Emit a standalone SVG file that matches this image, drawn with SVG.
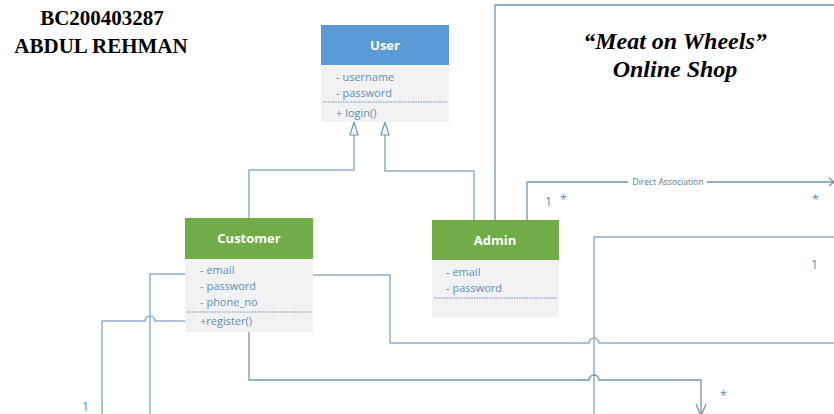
<svg xmlns="http://www.w3.org/2000/svg" width="834" height="414" viewBox="0 0 834 414">
<style>
.title{font-family:"Liberation Serif","Times New Roman",serif;font-weight:bold;font-size:21px;fill:#000}
.shop{font-family:"Liberation Serif","Times New Roman",serif;font-weight:bold;font-style:italic;font-size:24px;fill:#000}
.hdr{font-family:"Open Sans","DejaVu Sans",sans-serif;font-weight:bold;font-size:13px;fill:#fff}
.attr{font-family:"Open Sans","DejaVu Sans",sans-serif;font-size:11px;fill:#5F8DBA}
.mult{font-family:"Open Sans","DejaVu Sans",sans-serif;font-size:12.5px;fill:#5F8DBA}
.lbl{font-family:"Open Sans","DejaVu Sans",sans-serif;font-size:8.5px;fill:#5E7A92}
.body{fill:#F2F2F2}
.sep{stroke:#6F93BD;stroke-width:1;stroke-dasharray:1.5 1}
.c1{fill:none;stroke:#8FB0CB;stroke-width:1.5}
.c2{fill:none;stroke:#7294AE;stroke-width:1.3}
</style>
<rect width="834" height="414" fill="#fff"/>
<text class="title" x="102" y="25" text-anchor="middle">BC200403287</text>
<text class="title" x="101" y="53" text-anchor="middle">ABDUL REHMAN</text>
<text class="shop" x="675" y="49" text-anchor="middle">“Meat on Wheels”</text>
<text class="shop" x="675" y="77" text-anchor="middle">Online Shop</text>

<g id="connectors">
  <!-- generalization Customer -> User -->
  <path class="c1" d="M249,218 V170 H354 V135"/>
  <path d="M354,122 L350,135 H358 Z" fill="#fff" stroke="#7294AE" stroke-width="1.2"/>
  <!-- generalization Admin -> User -->
  <path class="c1" d="M474,220 V171 H385 V135"/>
  <path d="M385,122 L381,135 H389 Z" fill="#fff" stroke="#7294AE" stroke-width="1.2"/>
  <!-- Admin to top frame line -->
  <path class="c2" d="M495,220 V5 H834"/>
  <!-- direct association -->
  <path class="c2" d="M527,220 V182 H628 M707,182 H834"/>
  <path class="c2" d="M829,178 L834,182 L829,186"/>
  <text class="lbl" x="668" y="185" text-anchor="middle">Direct Association</text>
  <text class="mult" x="545" y="206">1</text>
  <text class="mult" x="560" y="204">*</text>
  <text class="mult" x="812" y="204">*</text>
  <!-- line from right into bottom -->
  <path class="c1" d="M834,237 H594 V414"/>
  <text class="mult" x="811" y="269">1</text>
  <!-- customer right -->
  <path class="c1" d="M313,275 H390 V343 H589 A5,5 0 0 1 599,343 H834"/>
  <!-- customer bottom -->
  <path class="c2" d="M249,332 V380 H589 A5,5 0 0 1 599,380 H701 V414"/>
  <path class="c2" d="M696,404 L701,416 L706,404"/>
  <text class="mult" x="720" y="400">*</text>
  <!-- customer left -->
  <path class="c1" d="M185,274 H150 V414"/>
  <path class="c1" d="M185,321 H155 A5,5 0 0 0 145,321 H102 V414"/>
  <text class="mult" x="82" y="411">1</text>
</g>

<g id="user">
  <rect x="321" y="25" width="128" height="40" fill="#5B9BD5"/>
  <rect class="body" x="321" y="65" width="128" height="57"/>
  <text class="hdr" x="385" y="50" text-anchor="middle">User</text>
  <text class="attr" x="336" y="81">- username</text>
  <text class="attr" x="336" y="97">- password</text>
  <line class="sep" x1="323" y1="102" x2="447" y2="102"/>
  <text class="attr" x="336" y="117">+ login()</text>
</g>

<g id="customer">
  <rect x="185" y="218" width="128" height="41" fill="#70AD47"/>
  <rect class="body" x="185" y="259" width="128" height="73"/>
  <text class="hdr" x="249" y="243" text-anchor="middle">Customer</text>
  <text class="attr" x="200" y="274">- email</text>
  <text class="attr" x="200" y="290">- password</text>
  <text class="attr" x="200" y="306">- phone_no</text>
  <line class="sep" x1="187" y1="312" x2="311" y2="312"/>
  <text class="attr" x="200" y="325">+register()</text>
</g>

<g id="admin">
  <rect x="432" y="220" width="127" height="40" fill="#70AD47"/>
  <rect class="body" x="432" y="260" width="127" height="57"/>
  <text class="hdr" x="495" y="245" text-anchor="middle">Admin</text>
  <text class="attr" x="446" y="276">- email</text>
  <text class="attr" x="446" y="292">- password</text>
  <line class="sep" x1="434" y1="298" x2="557" y2="298"/>
</g>
</svg>
